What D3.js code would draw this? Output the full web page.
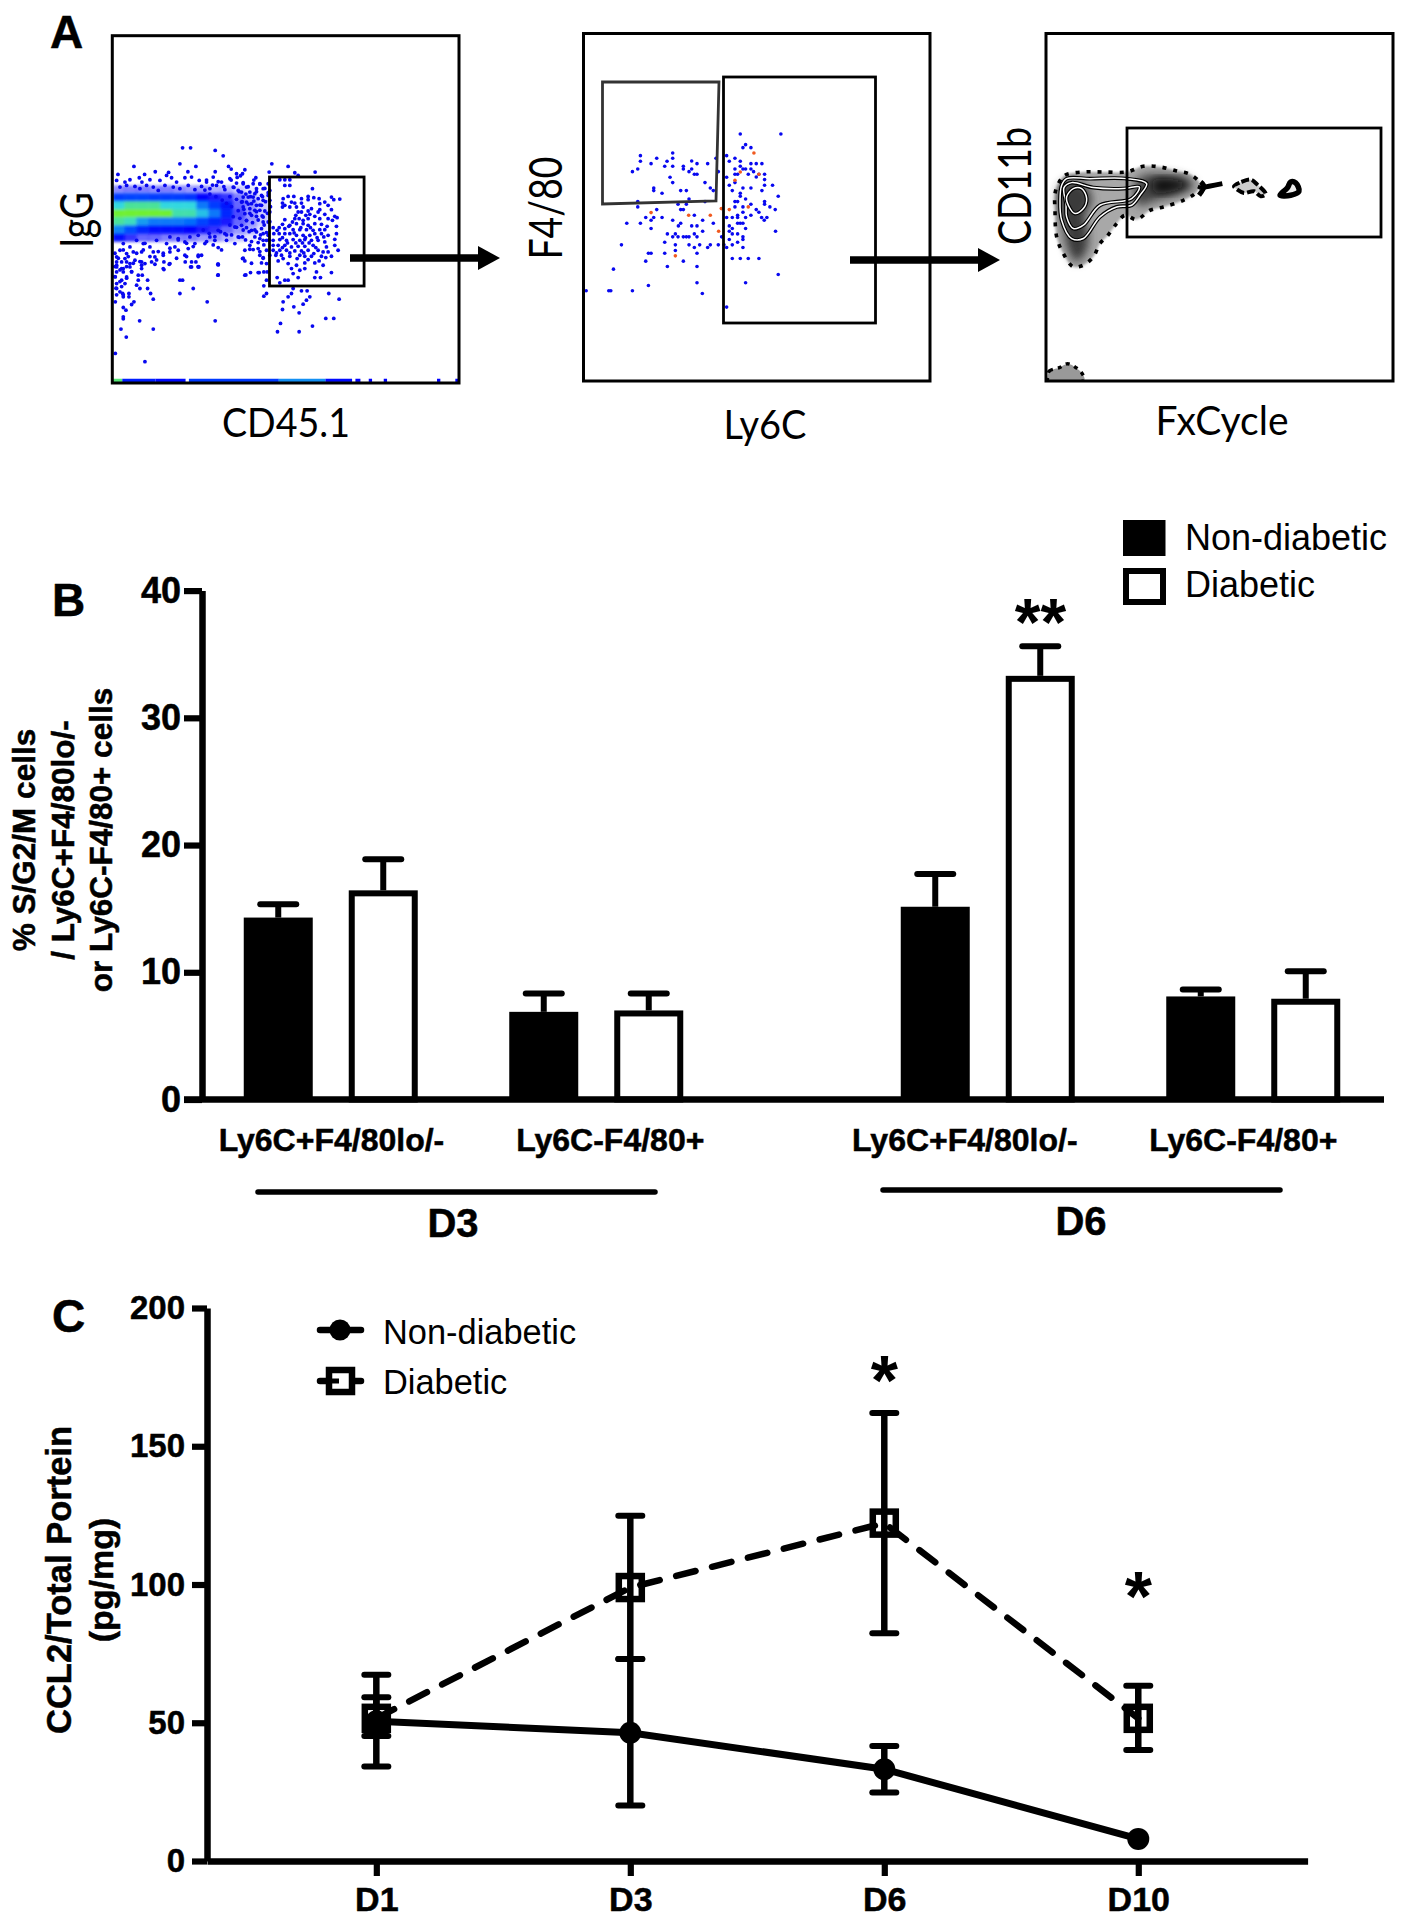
<!DOCTYPE html>
<html><head><meta charset="utf-8">
<script src="https://cdnjs.cloudflare.com/ajax/libs/d3/7.8.5/d3.min.js"></script>
<style>html,body{margin:0;padding:0;background:#fff}svg{display:block}text{font-family:"Liberation Sans",Arial,sans-serif;fill:#000}</style>
</head><body><svg id="c" width="1403" height="1920" xmlns="http://www.w3.org/2000/svg"></svg>
<script>
// ---------- DATA: panel B ----------
const barDays=["D3","D6"];
const barCells=["Ly6C+F4/80lo/-","Ly6C-F4/80+"];
const barSeries=["Non-diabetic","Diabetic"];
const barMeans=[14.3,16.44,6.89,7.0,15.15,33.3,8.1,7.92];
const barUppers=[15.34,18.88,8.33,8.33,17.73,35.62,8.64,10.08];
const barTicks=[0,10,20,30,40];
// ---------- DATA: panel C ----------
const timeLabels=["D1","D3","D6","D10"];
const nonDiabeticMean=[50.5,46.4,33.2,8];
const nonDiabeticLow=[45.2,20.1,24.8,8];
const nonDiabeticHigh=[59.2,73.1,41.6,8];
const diabeticMean=[51.6,98.9,122.2,51.6];
const diabeticLow=[34.2,73.1,82.4,40.1];
const diabeticHigh=[67.4,124.9,162,63.4];
const lineTicks=[0,50,100,150,200];
// ---------- DATA: panel A1 (lists with their reading offsets) ----------
const heatRows=[
[.45,.5,.5,.45,.5,.45,.4,.4,.3,.3,.2,.1,0],
[1.6,1.7,1.7,1.6,1.6,1.6,1.5,1,.9,.8,.5,.3,.1],
[3,3.4,3.4,3.4,3,3,3,2.2,1.6,1.2,.6,.4,.2],
[4,4,4,4,4,3.3,3.3,2.8,2.2,1.4,.7,.4,.2],
[3.4,3.2,2.5,2.2,2.2,2.2,2.1,1.7,1.4,.9,.6,.4,.2],
[2.3,1.8,1.4,1.1,1.1,1.1,1,.9,.8,.6,.4,.3,.1],
[1.1,.8,.6,.6,.5,.5,.5,.4,.4,.3,.2,.1,0]];
const stripLevels=[[0,30,3.6],[30,130,1.3],[130,220,1.1],[230,500,1.6],[500,640,2.4],[640,720,1.1],[730,745,1],[770,780,1],[815,825,1],[975,985,1],[1030,1038,1]];
const igGLeftRead=[[218,22],[242,22],[316,30],[340,46],[72,78],[210,70],[258,78],[356,78],[364,86],[24,102],[104,102],[136,94],[176,96],[234,94],[316,94],[380,100],[20,120],[45,125],[60,118],[88,112],[96,125],[120,118],[150,120],[170,105],[185,112],[200,125],[225,112],[245,110],[268,120],[290,125],[310,110],[335,125],[360,115],[380,128],[30,140],[50,135],[75,138],[90,145],[110,135],[130,140],[145,150],[165,135],[190,140],[210,145],[235,135],[255,148],[275,138],[300,145],[320,135],[345,148],[370,140],[385,150],[180,290],[205,295],[240,290],[265,285],[300,290],[325,270],[345,280],[375,260],[385,290],[140,300],[170,310],[195,320],[225,305],[255,310],[285,310],[315,300],[350,300],[375,310],[325,322],[40,310],[60,320],[80,300],[100,310],[120,320],[30,330],[50,340],[70,335],[95,335],[20,350],[45,355],[75,360],[130,335],[160,345],[180,335],[205,330],[235,325],[265,345],[225,345],[245,365],[275,345],[325,372],[20,375],[40,385],[60,370],[95,385],[135,350],[160,385],[180,370],[245,380],[265,380]];
const igGLowerRead=[[20,5],[35,5],[50,5],[95,5],[125,5],[135,12],[162,5],[178,12],[226,5],[258,5],[242,20],[267,20],[324,12],[324,45],[162,28],[20,20],[35,25],[60,20],[95,15],[105,10],[20,35],[40,35],[65,35],[85,45],[97,45],[16,50],[35,60],[50,50],[85,60],[113,60],[210,60],[218,60],[20,70],[45,70],[80,75],[90,85],[113,85],[250,85],[20,85],[30,95],[38,100],[57,100],[57,110],[122,100],[210,100],[16,125],[40,110],[72,125],[65,133],[130,117],[292,125],[40,142],[48,150],[40,170],[40,176],[89,182],[316,182],[33,207],[130,207],[49,231],[16,280],[105,305]];
const igGGateRead=[[96,70],[145,78],[15,88],[8,100],[2,106],[88,95],[48,112],[165,97],[175,105],[226,95],[120,118],[135,118],[150,118],[150,135],[135,135],[10,130],[40,130],[60,130],[85,130],[20,140],[50,145],[70,145],[90,150],[5,155],[30,155],[45,160],[65,165],[85,165],[10,170],[25,170],[40,170],[55,175],[70,180],[90,180],[5,185],[20,185],[35,190],[50,195],[65,195],[10,200],[30,205],[45,210],[60,210],[75,212],[90,215],[15,220],[35,225],[50,228],[70,230],[20,240],[70,245],[85,245],[5,255],[20,262],[35,270],[50,275],[70,280],[85,285],[65,265],[80,300],[60,295],[45,290],[70,300],[8,290],[30,315],[15,330],[40,328],[55,325],[60,345],[70,352],[80,330],[90,345],[8,355],[15,362],[65,368],[80,370],[72,395],[32,397],[15,405],[55,397],[82,395],[80,420],[72,437],[80,460],[72,468],[130,175],[145,168],[162,168],[185,175],[205,168],[218,145],[222,172],[238,175],[275,170],[282,178],[300,176],[128,188],[135,195],[155,185],[165,188],[150,200],[170,200],[185,188],[190,200],[205,178],[240,190],[255,185],[265,195],[128,200],[175,215],[185,215],[205,212],[215,205],[240,208],[235,215],[275,208],[210,222],[135,238],[165,235],[158,245],[178,235],[190,240],[205,235],[240,235],[265,235],[278,240],[292,232],[128,252],[150,255],[170,250],[190,250],[205,255],[225,250],[245,252],[262,258],[290,258],[100,262],[118,262],[135,265],[160,268],[180,268],[200,268],[220,270],[240,268],[255,268],[102,280],[118,280],[135,280],[150,280],[170,285],[190,285],[210,285],[225,280],[245,280],[265,285],[290,280],[100,300],[120,298],[140,300],[160,298],[180,300],[195,298],[215,300],[235,300],[255,305],[285,297],[100,315],[115,315],[135,315],[155,320],[175,318],[195,318],[220,315],[260,320],[285,315],[100,330],[120,330],[140,330],[165,332],[185,332],[205,330],[235,330],[265,335],[295,330],[108,345],[125,345],[150,348],[180,345],[195,348],[215,348],[245,348],[275,348],[115,362],[145,370],[170,375],[195,368],[225,368],[250,375],[155,385],[180,390],[195,385],[230,395],[275,397],[160,400],[175,412],[225,412],[242,412],[112,412],[135,420],[145,420],[120,428],[160,445],[185,452],[202,452],[155,460],[145,470],[267,460],[210,470],[200,480],[190,492],[130,485],[298,477],[162,500],[128,508],[178,518],[258,535],[282,535],[122,550],[218,558],[113,575],[178,575],[112,270],[128,292],[147,258],[163,278],[183,262],[197,292],[212,262],[232,292],[252,290],[143,308],[168,308],[188,308],[208,308],[228,322],[250,335],[128,322],[150,338],[172,355],[192,338],[222,340],[258,352],[110,338],[130,355],[205,358],[238,362],[168,225],[198,225],[225,228],[255,222],[285,228]];
const igGBandRead=[[604,540],[622,532],[640,548],[655,560],[672,540],[690,552],[705,565],[612,562],[628,575],[648,582],[662,590],[680,575],[698,590],[715,578],[600,590],[620,598],[637,605],[655,612],[672,603],[690,615],[707,605],[722,620],[605,620],[625,632],[642,628],[660,640],[680,635],[697,648],[713,640],[610,650],[630,655],[650,662],[668,668],[685,660],[703,675],[720,665],[600,675],[620,682],[640,690],[658,695],[675,690],[692,705],[710,698],[605,705],[628,712],[647,720],[665,725],[685,728],[702,735],[718,720],[660,748],[690,755],[640,775],[700,775],[665,790],[648,825],[688,818],[530,540],[548,555],[565,545],[582,560],[525,570],[540,582],[558,590],[577,600],[590,610],[520,690],[538,700],[555,710],[572,695],[590,705],[530,725],[550,735],[575,750],[470,730],[490,740],[445,720],[420,745],[400,760],[505,770],[470,770],[505,800],[440,775],[565,795],[565,825],[255,760],[265,775],[280,750],[295,770],[255,800],[270,810],[290,800],[310,790],[255,830],[270,845],[258,865],[275,860],[290,835],[305,815],[260,885],[280,885],[320,760],[340,750],[330,785],[360,770],[385,755],[380,780],[345,730]];
// ---------- DATA: panel A2 ----------
const f480Blue=[[471,41],[593,41],[487,73],[479,82],[503,82],[171,106],[171,123],[220,114],[268,98],[268,114],[251,123],[203,130],[244,138],[268,138],[325,122],[341,130],[373,130],[398,114],[430,106],[438,123],[455,114],[471,123],[503,130],[519,130],[536,130],[455,146],[471,138],[479,146],[487,146],[503,146],[147,154],[163,146],[300,138],[300,146],[325,146],[317,154],[333,162],[341,162],[405,154],[463,162],[455,162],[495,162],[511,154],[527,162],[544,162],[260,171],[268,187],[365,187],[430,171],[455,187],[438,195],[519,170],[544,178],[544,195],[568,195],[479,203],[503,203],[536,211],[211,203],[211,211],[236,219],[292,211],[309,211],[381,203],[390,211],[447,211],[471,219],[317,236],[471,228],[487,236],[503,252],[585,228],[544,244],[544,252],[163,244],[163,260],[284,252],[309,252],[365,244],[455,244],[463,244],[455,260],[479,260],[519,268],[560,260],[576,268],[220,268],[292,268],[300,268],[479,276],[463,285],[447,292],[430,292],[463,292],[487,292],[503,285],[527,276],[535,292],[543,300],[551,292],[187,292],[211,292],[236,292],[268,300],[333,285],[358,300],[203,300],[130,309],[171,309],[203,325],[292,309],[285,317],[325,317],[341,317],[358,333],[390,309],[463,309],[471,309],[479,309],[438,317],[438,333],[447,325],[487,325],[577,333],[252,341],[268,350],[276,341],[284,350],[300,350],[309,350],[317,350],[333,341],[341,350],[415,350],[438,358],[447,341],[463,341],[479,350],[479,358],[244,366],[276,374],[317,374],[333,382],[349,374],[373,382],[381,374],[405,374],[422,374],[430,382],[447,374],[463,366],[479,382],[114,374],[276,391],[195,399],[203,399],[244,399],[341,399],[447,415],[471,415],[495,415],[527,415],[187,423],[300,423],[252,439],[341,439],[90,447],[585,463],[487,488],[195,496],[341,488],[8,512],[76,512],[82,512],[147,512],[357,520],[430,561]];
const f480Orange=[[512,98],[471,155],[455,180],[527,162],[203,277],[316,285],[381,285],[414,265],[438,268],[495,260],[406,333],[276,407]];
// ---------- DATA: panel A3 contours ----------
const contourOuter=[[25,100],[45,75],[100,65],[160,65],[230,65],[280,48],[330,50],[380,62],[420,72],[450,100],[440,125],[400,150],[340,170],[300,180],[260,208],[225,195],[200,220],[170,260],[150,280],[130,320],[100,345],[70,350],[40,310],[20,260],[15,180],[15,130]];
const contourLobe=[[270,80],[340,72],[410,85],[432,105],[385,133],[320,150],[265,165],[250,120]];
const contourCore=[[310,92],[370,88],[415,103],[370,122],[315,125]];
const contourLeft=[[30,110],[60,90],[110,110],[125,150],[105,200],[115,250],[110,300],[80,335],[55,300],[40,230],[25,160]];
const contourLine1=[[35,105],[50,85],[120,85],[230,85],[290,100],[270,135],[245,165],[200,170],[150,200],[100,265],[65,265],[35,210],[30,150]];
const contourLine2=[[42,112],[65,97],[130,112],[220,115],[268,110],[245,145],[150,165],[100,225],[70,235],[50,200],[48,160]];
const contourLine3=[[50,140],[70,115],[95,115],[110,145],[100,175],[75,190],[55,165]];
const contourTail=[[452,113],[477,108],[517,100]];
const contourTail2=[[452,95],[462,108],[447,135]];
const contourIsland1=[[552,108],[574,95],[602,88],[622,103],[647,131],[632,138],[612,123],[582,128],[562,118]];
const contourIsland2=[[690,135],[712,113],[722,95],[737,98],[747,123],[722,135]];
const contourCorner=[[5,10],[10,30],[40,40],[65,52],[90,40],[110,20],[115,2],[5,2]];

// ---------- Drawing ----------
const svg=d3.select("#c");
const defs=svg.append("defs");
[["b2",1.8],["b3",5],["b1",1.2]].forEach(([id,s])=>defs.append("filter").attr("id",id).attr("x","-30%").attr("y","-30%").attr("width","160%").attr("height","160%").append("feGaussianBlur").attr("stdDeviation",s));
const ink="#000";
const hline=(g,x1,y1,x2,y2,w,extra)=>{const l=g.append("line").attr("x1",x1).attr("y1",y1).attr("x2",x2).attr("y2",y2).attr("stroke",ink).attr("stroke-width",w);if(extra)l.attr("stroke-linecap",extra);return l;};
const boldText=s=>s.attr("font-weight","bold").attr("stroke","#000").attr("stroke-width",.5);
const letter=(t,x,y)=>boldText(svg.append("text").attr("x",x).attr("y",y).attr("font-size",46)).text(t);
letter("A",50,48);letter("B",52,616);letter("C",52,1332);

// --- Panel A helpers
function flowPanel(x0,x1,y0,y1){
  const sx=d3.scaleLinear([0,1041],[x0,x1]),sy=d3.scaleLinear([0,1044],[y1,y0]);
  const g=svg.append("g");
  const id="clip"+Math.round(x0);
  defs.append("clipPath").attr("id",id).append("rect").attr("x",x0).attr("y",y0).attr("width",x1-x0).attr("height",y1-y0);
  const inner=g.append("g").attr("clip-path",`url(#${id})`);
  return {sx,sy,g,inner,frame(){g.append("rect").attr("x",x0).attr("y",y0).attr("width",x1-x0).attr("height",y1-y0).attr("fill","none").attr("stroke",ink).attr("stroke-width",3);}};
}
const axisText=(t,x,y,len,fs,rot)=>{const s=svg.append("text").style("font-family","Lato, sans-serif").attr("font-size",fs).attr("text-anchor","middle").attr("textLength",len).attr("lengthAdjust","spacingAndGlyphs").text(t);
  s.attr("transform",`translate(${x},${y})${rot?" rotate(-90)":""}`);return s;};
const arrow=(x1,x2,y)=>{hline(svg,x1,y,x2-22,y,7.5);svg.append("path").attr("d",d3.line()([[x2-22,y-12],[x2,y],[x2-22,y+12]])+"Z").attr("fill",ink);};

// A1
const a1=flowPanel(112.3,459,35.7,383);
const heat=d3.scaleLinear([1,2,3,4],["#0000ff","#0060ff","#30d8e0","#70f030"]);
const rowY=d3.scaleLinear([0,1],[582,558]),colX=d3.scaleLinear([0,1],[0,36]);
const heatG=a1.inner.append("g").attr("filter","url(#b2)");
heatRows.forEach((r,i)=>r.forEach((v,j)=>{heatG.append("rect").attr("x",a1.sx(colX(j)))
  .attr("y",a1.sy(rowY(i)+12)).attr("width",a1.sx(colX(1))-a1.sx(0)+.5).attr("height",a1.sy(0)-a1.sy(24)+.5)
  .attr("fill",heat(Math.max(v,1))).attr("fill-opacity",Math.min(v,1));}));
stripLevels.forEach(([s,e,v])=>a1.inner.append("line").attr("x1",a1.sx(s)).attr("x2",a1.sx(e)).attr("y1",a1.sy(8)).attr("y2",a1.sy(8)).attr("stroke",heat(v)).attr("stroke-width",3.2));
const a1Pts=[...igGLeftRead.map(p=>[p[0]-7,729-p[1]]),...igGLowerRead.map(p=>[p[0]-7,369-p[1]]),...igGGateRead.map(p=>[p[0]+383,729-p[1]]),...igGBandRead.map(p=>[p[0]-247,1150-p[1]])];
a1.inner.selectAll("circle.d").data(a1Pts).join("circle").attr("cx",d=>a1.sx(d[0])).attr("cy",d=>a1.sy(d[1])).attr("r",1.9).attr("fill","#0808f0");
a1.frame();
a1.g.append("rect").attr("x",a1.sx(472)).attr("y",177).attr("width",a1.sx(756)-a1.sx(472)).attr("height",109).attr("fill","none").attr("stroke",ink).attr("stroke-width",2.8);
arrow(350,500,258);
axisText("IgG",93,220,56,46,true);
axisText("CD45.1",286,437,128,40,false);

// A2
const a2=flowPanel(583.5,930,33.5,381);
a2.inner.selectAll("circle.b").data(f480Blue).join("circle").attr("cx",d=>a2.sx(d[0])).attr("cy",d=>a2.sy(783-d[1])).attr("r",1.8).attr("fill","#0808f0");
a2.inner.selectAll("circle.o").data(f480Orange).join("circle").attr("cx",d=>a2.sx(d[0])).attr("cy",d=>a2.sy(783-d[1])).attr("r",1.8).attr("fill","#f05a20");
a2.frame();
a2.g.append("path").attr("d",d3.line()([[602.5,82],[719,82],[716,201],[602.5,204]])+"Z").attr("fill","none").attr("stroke","#333").attr("stroke-width",2.8);
a2.g.append("rect").attr("x",723.5).attr("y",77).attr("width",152).attr("height",246).attr("fill","none").attr("stroke",ink).attr("stroke-width",2.8);
arrow(850,1000,260);
axisText("F4/80",562,208,103,46,true);
axisText("Ly6C",765,439,83,40,false);

// A3
const a3=flowPanel(1046,1393,33.5,381);
const z=p=>[a3.sx(p[0]+12),a3.sy(693-p[1])];
const closed=d3.line().curve(d3.curveCatmullRomClosed);
const open=d3.line().curve(d3.curveCatmullRom);
const poly=(pts,fill,filt)=>{const e=a3.inner.append("path").attr("d",closed(pts.map(z))).attr("fill",fill);if(filt)e.attr("filter",`url(#${filt})`);return e;};
poly(contourOuter,"#a8a8a8","b1");
poly(contourLeft,"#3a3a3a","b3");
poly(contourLobe,"#444","b3");
poly(contourCore,"#0c0c0c","b3");
const cline=(pts)=>{a3.inner.append("path").attr("d",closed(pts.map(z))).attr("fill","none").attr("stroke","#000").attr("stroke-width",3.8);
 a3.inner.append("path").attr("d",closed(pts.map(z))).attr("fill","none").attr("stroke","#fff").attr("stroke-width",1.5);};
cline(contourLine1);cline(contourLine2);cline(contourLine3);
a3.inner.append("path").attr("d",closed(contourOuter.map(z))).attr("fill","none").attr("stroke","#000").attr("stroke-width",3.6).attr("stroke-dasharray","4 7");
[contourTail,contourTail2].forEach(t=>a3.inner.append("path").attr("d",open(t.map(z))).attr("fill","none").attr("stroke","#000").attr("stroke-width",5));
a3.inner.append("path").attr("d",closed(contourIsland1.map(z))).attr("fill","#ccc").attr("stroke","#000").attr("stroke-width",4).attr("stroke-dasharray","8 3");
a3.inner.append("path").attr("d",closed(contourIsland2.map(z))).attr("fill","#eee").attr("stroke","#000").attr("stroke-width",5.5);
a3.inner.append("path").attr("d",closed(contourCorner.map(p=>[a3.sx(p[0]),a3.sy(p[1])]))).attr("fill","#999").attr("stroke","#000").attr("stroke-width",3.4).attr("stroke-dasharray","4 5");
a3.frame();
a3.g.append("rect").attr("x",1127).attr("y",128).attr("width",254).attr("height",109).attr("fill","none").attr("stroke",ink).attr("stroke-width",2.8);
axisText("CD11b",1031,186,118,46,true);
axisText("FxCycle",1222,435,133,40,false);

// --- Panel B
const yB=d3.scaleLinear([0,40],[1099.5,590.6]);
const dayX=d3.scalePoint(barDays,[463.5,1120.5]);
const cellX=d3.scalePoint(barCells,[-132.75,132.75]);
const seriesX=d3.scalePoint(barSeries,[-52.5,52.5]);
const barW=69;
const barData=[];let k=0;
barDays.forEach(d=>barCells.forEach(c=>barSeries.forEach(s=>{barData.push({d,c,s,v:barMeans[k],u:barUppers[k],cx:dayX(d)+cellX(c)+seriesX(s)});k++;})));
const gB=svg.append("g");
barData.forEach(b=>{hline(gB,b.cx,yB(b.v),b.cx,yB(b.u),6);hline(gB,b.cx-18,yB(b.u),b.cx+18,yB(b.u),6,"round");});
barData.forEach(b=>{const white=b.s==="Diabetic",sw=white?6:0;
  gB.append("rect").attr("x",b.cx-barW/2+sw/2).attr("y",yB(b.v)+sw/2).attr("width",barW-sw).attr("height",yB(0)-yB(b.v)-sw/2)
  .attr("fill",white?"#fff":"#000").attr("stroke",white?"#000":"none").attr("stroke-width",sw);});
const styleAxis=(g,fs)=>{g.selectAll("path.domain").attr("stroke",ink).attr("stroke-width",6.5);g.selectAll(".tick line").attr("stroke",ink).attr("stroke-width",6.2);
 g.selectAll("text").attr("font-size",fs).attr("font-weight","bold").attr("fill",ink).attr("stroke","#000").attr("stroke-width",.5).style("font-family",'"Liberation Sans",Arial,sans-serif');};
const axB=svg.append("g").attr("transform","translate(202,0)").call(d3.axisLeft(yB).tickValues(barTicks).tickSize(18).tickSizeOuter(0).tickPadding(3));
styleAxis(axB,36);
hline(svg,184,yB(0),1384,yB(0),6.5);
const labelShift=[0.7,14,-23,-10];let li=0;
barDays.forEach(d=>barCells.forEach(c=>{boldText(svg.append("text").attr("x",dayX(d)+cellX(c)+labelShift[li++]).attr("y",1151).attr("text-anchor","middle").attr("font-size",32)).text(c);}));
hline(svg,258,1192,655,1192,5.5,"round");hline(svg,883,1190,1280,1190,5.5,"round");
boldText(svg.append("text").attr("x",453).attr("y",1237).attr("text-anchor","middle").attr("font-size",40)).text(barDays[0]);
boldText(svg.append("text").attr("x",1081).attr("y",1235).attr("text-anchor","middle").attr("font-size",40)).text(barDays[1]);
["% S/G2/M cells","/ Ly6C+F4/80lo/-","or Ly6C-F4/80+ cells"].forEach((t,i)=>boldText(svg.append("text").attr("transform",`translate(${[35,73.5,111.5][i]},840) rotate(-90)`).attr("text-anchor","middle").attr("font-size",31.5)).text(t));
svg.append("rect").attr("x",1123).attr("y",520).attr("width",42.5).attr("height",36).attr("fill","#000");
svg.append("rect").attr("x",1126).attr("y",571).attr("width",37).attr("height",31).attr("fill","#fff").attr("stroke","#000").attr("stroke-width",6);
svg.append("text").attr("x",1185).attr("y",550).attr("font-size",36).text(barSeries[0]);
svg.append("text").attr("x",1185).attr("y",597).attr("font-size",36).text(barSeries[1]);
const star=(t,x,yy,fs)=>svg.append("text").attr("x",x).attr("y",yy).attr("text-anchor","middle").attr("font-size",fs).attr("font-weight","bold").text(t);
star("**",1040.5,645,66);

// --- Panel C
const yC=d3.scaleLinear([0,200],[1861,1308]);
const xC=d3.scaleLinear([-2/3,11/3],[207,1307.6]);
const gC=svg.append("g");
const lineGen=d3.line().x((d,i)=>xC(i)).y(d=>yC(d));
diabeticMean.forEach((v,i)=>gC.append("rect").attr("x",xC(i)-11.5).attr("y",yC(v)-11.5).attr("width",23).attr("height",23).attr("fill","#fff").attr("stroke",ink).attr("stroke-width",6.5));
gC.append("path").attr("d",lineGen(nonDiabeticMean)).attr("fill","none").attr("stroke",ink).attr("stroke-width",7);
gC.append("path").attr("d",lineGen(diabeticMean)).attr("fill","none").attr("stroke",ink).attr("stroke-width",6.5).attr("stroke-dasharray","20 17").attr("stroke-linecap","round");
const errs=(lo,hi)=>lo.forEach((l,i)=>{if(hi[i]===l)return;const x=xC(i);hline(gC,x,yC(l),x,yC(hi[i]),6.5);[l,hi[i]].forEach(e=>hline(gC,x-12,yC(e),x+12,yC(e),6,"round"));});
errs(diabeticLow,diabeticHigh);errs(nonDiabeticLow,nonDiabeticHigh);
nonDiabeticMean.forEach((v,i)=>gC.append("circle").attr("cx",xC(i)).attr("cy",yC(v)).attr("r",11).attr("fill",ink));
const axCy=svg.append("g").attr("transform","translate(207,0)").call(d3.axisLeft(yC).tickValues(lineTicks).tickSize(15).tickSizeOuter(0).tickPadding(7));
styleAxis(axCy,33);
const axCx=svg.append("g").attr("transform","translate(0,1861)").call(d3.axisBottom(xC).tickValues([0,1,2,3]).tickFormat(i=>timeLabels[i]).tickSize(15).tickSizeOuter(0).tickPadding(11));
styleAxis(axCx,34);
star("*",xC(2),1405,70);star("*",xC(3),1621,70);
boldText(svg.append("text").attr("transform","translate(71.4,1580) rotate(-90)").attr("text-anchor","middle").attr("font-size",34.5)).text("CCL2/Total Portein");
boldText(svg.append("text").attr("transform","translate(112.5,1580) rotate(-90)").attr("text-anchor","middle").attr("font-size",34)).text("(pg/mg)");
hline(svg,320,1330,361,1330,6.5,"round");svg.append("circle").attr("cx",340).attr("cy",1330).attr("r",10.5).attr("fill",ink);
hline(svg,320,1381,361,1381,6.5,"round");
svg.append("rect").attr("x",329).attr("y",1370).attr("width",23).attr("height",22).attr("fill","#fff").attr("stroke",ink).attr("stroke-width",6.5);
hline(svg,329,1381,339,1381,5);
svg.append("text").attr("x",383).attr("y",1344).attr("font-size",34.4).text("Non-diabetic");
svg.append("text").attr("x",383).attr("y",1393.6).attr("font-size",34.4).text("Diabetic");
</script></body></html>
